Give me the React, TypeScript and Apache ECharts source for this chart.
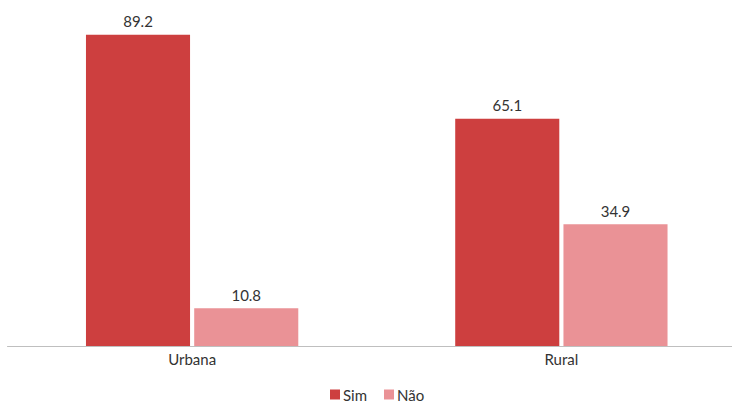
import React, { useEffect, useRef } from "react";
import * as echarts from "echarts";

const categories = ["Urbana", "Rural"];
const simValues = [89.2, 65.1];
const naoValues = [10.8, 34.9];
const seriesNames = ["Sim", "Não"];

export default function App() {
  const ref = useRef<HTMLDivElement>(null);
  useEffect(() => {
    const chart = echarts.init(ref.current!, null, { renderer: "svg" });
    const font = "Lato, 'Open Sans', sans-serif";
    const labelColor = "#333333";
    chart.setOption({
      animation: false,
      textStyle: { fontFamily: font },
      grid: { left: 7.5, right: 0, top: 1, bottom: 57, containLabel: false },
      legend: {
        top: 386,
        left: 325,
        itemWidth: 10,
        itemHeight: 10,
        icon: "rect",
        itemGap: 17,
        textStyle: { fontFamily: font, fontSize: 15, color: labelColor, padding: [0, 0, 0, -2] },
        data: seriesNames,
      },
      xAxis: {
        type: "category",
        data: categories,
        axisLine: { lineStyle: { color: "#bfbfbf", width: 1 } },
        axisTick: { show: false },
        axisLabel: { fontFamily: font, fontSize: 15, color: labelColor, margin: 5 },
      },
      yAxis: {
        type: "value",
        min: 0,
        max: 100,
        show: false,
        splitLine: { show: false },
      },
      series: [
        {
          name: seriesNames[0],
          type: "bar",
          data: simValues,
          barGap: "4%",
          barCategoryGap: "42.5%",
          itemStyle: { color: "#cd3f3f" },
          label: { show: true, position: "top", fontFamily: font, fontSize: 15, color: labelColor, distance: 6 },
        },
        {
          name: seriesNames[1],
          type: "bar",
          data: naoValues,
          barGap: "4%",
          barCategoryGap: "42.5%",
          itemStyle: { color: "#ea9296" },
          label: { show: true, position: "top", fontFamily: font, fontSize: 15, color: labelColor, distance: 6 },
        },
      ],
    });
    return () => chart.dispose();
  }, []);
  return (
    <div
      style={{ position: "absolute", left: 0, top: 0, width: 732, height: 403, overflow: "hidden", background: "#fff" }}
    >
      <div
        ref={ref}
        style={{ position: "absolute", left: 0, top: -4, width: 746, height: 407 }}
      />
    </div>
  );
}
